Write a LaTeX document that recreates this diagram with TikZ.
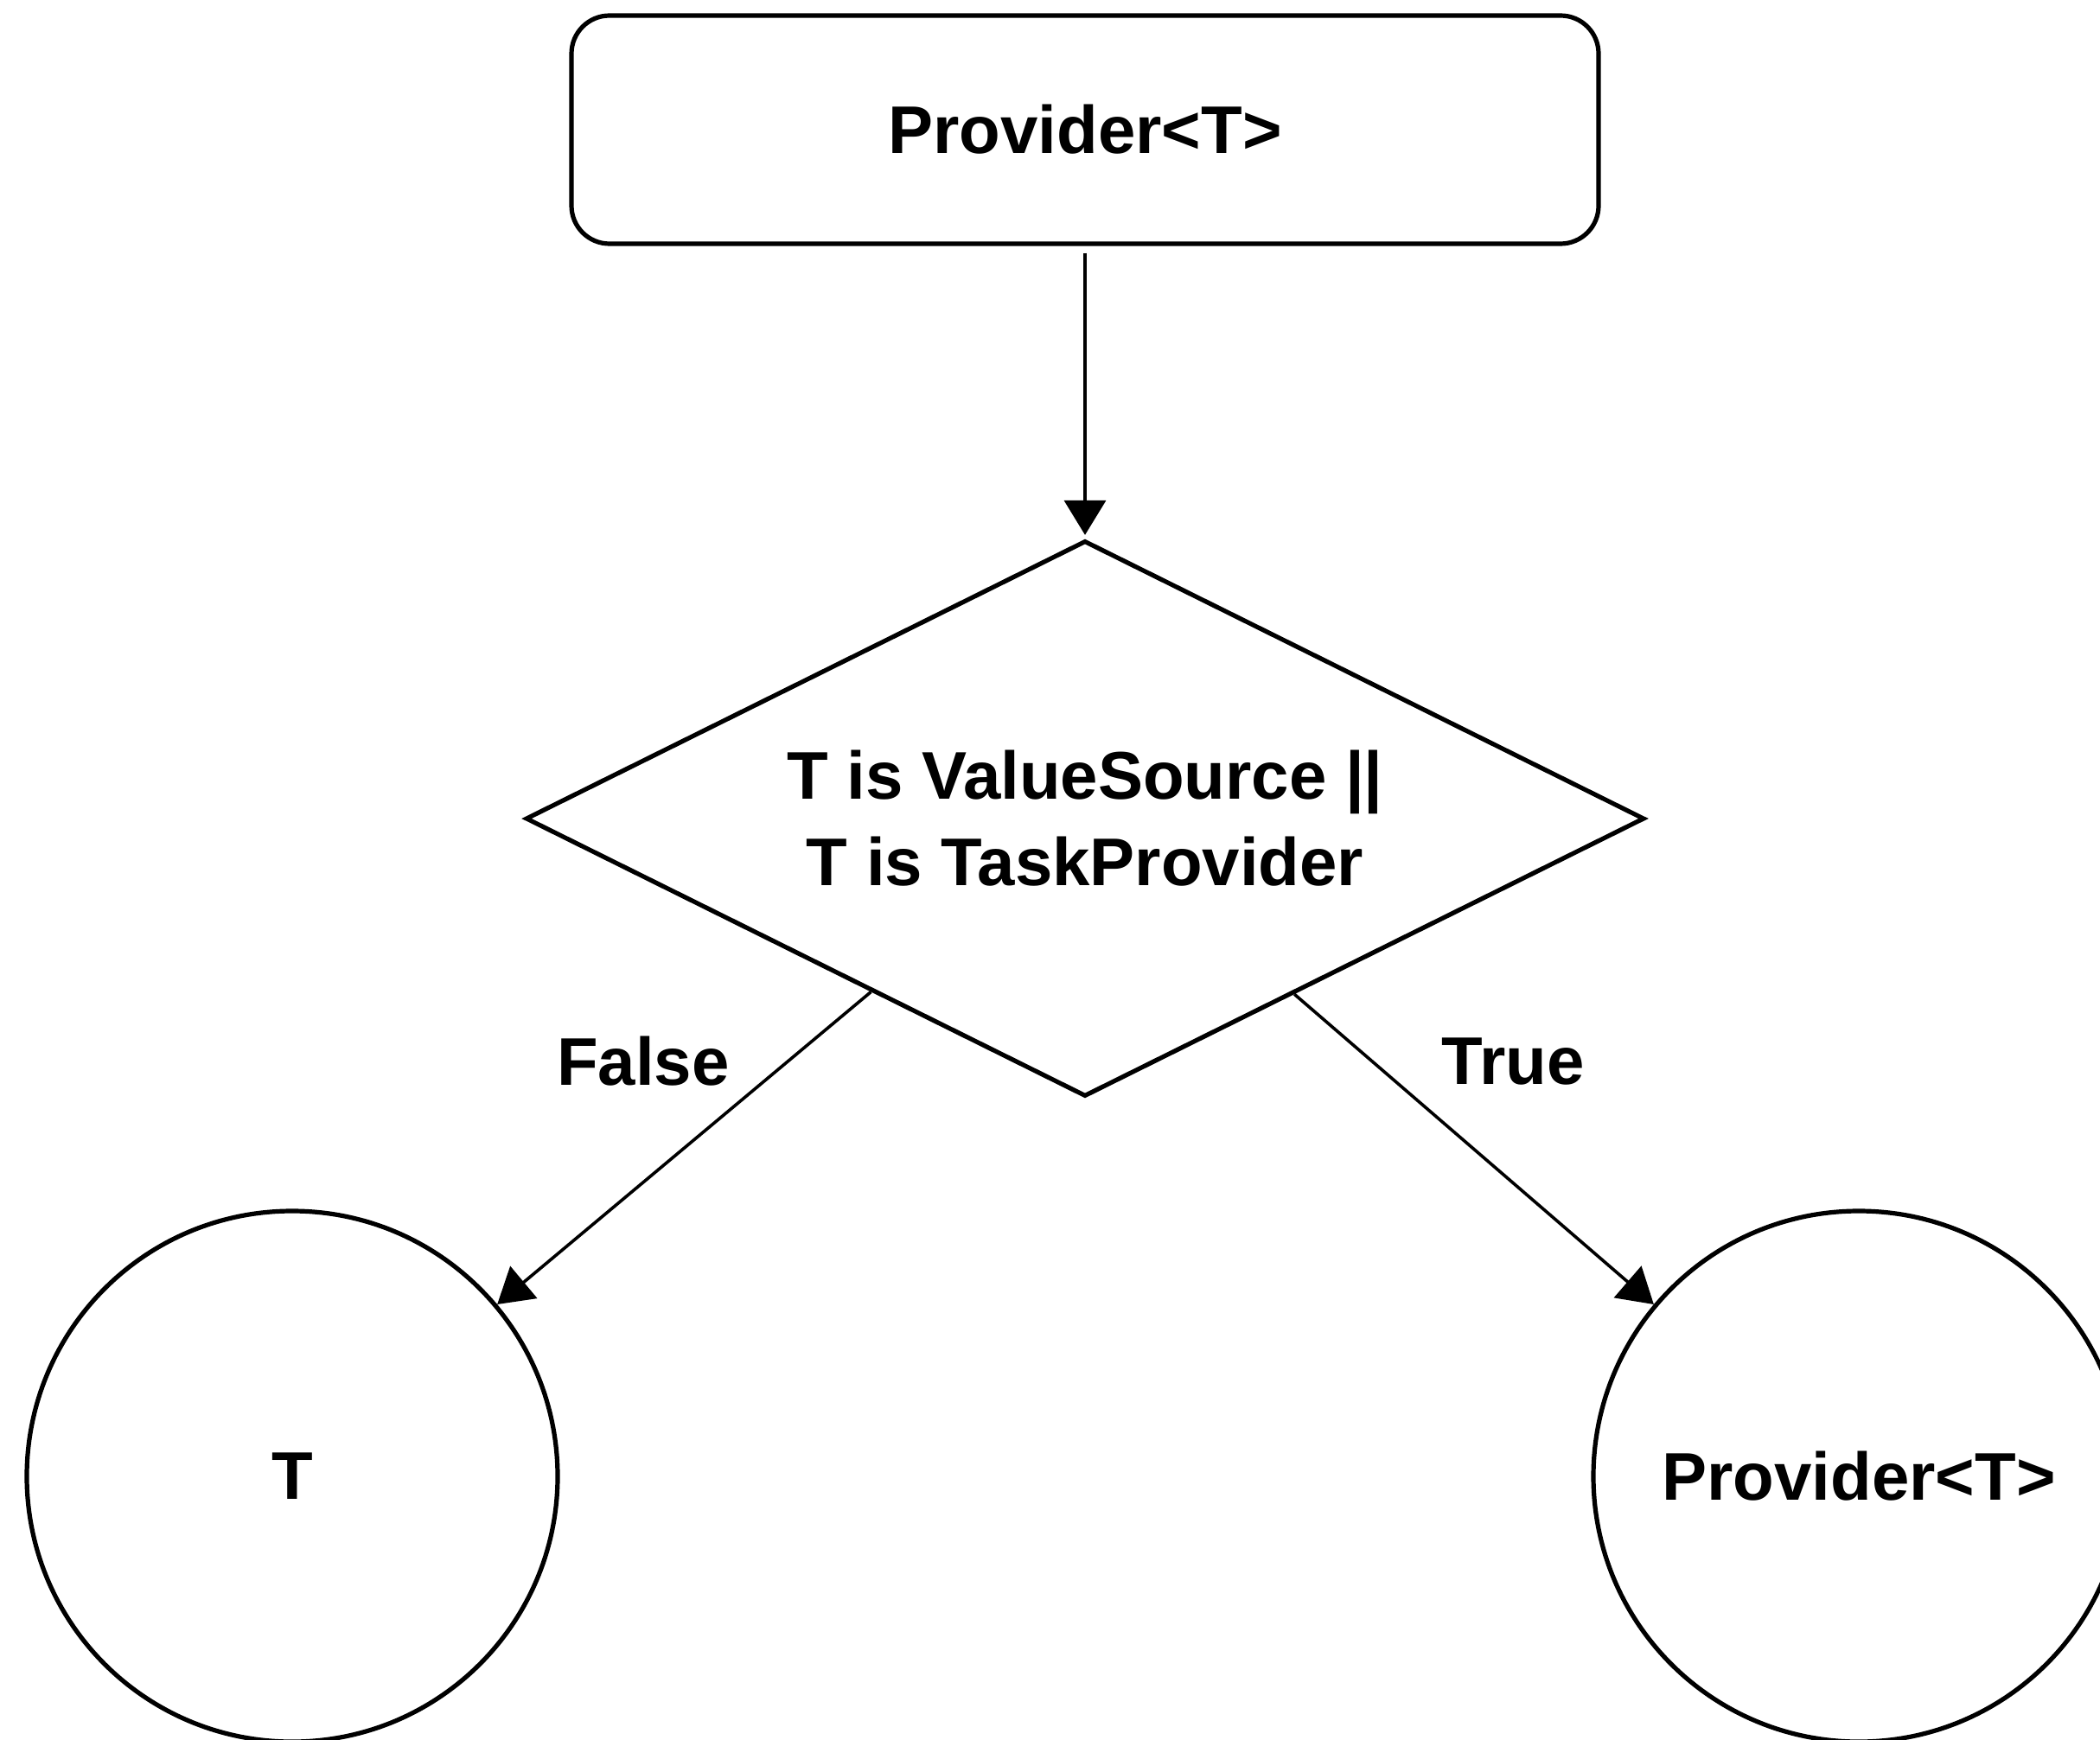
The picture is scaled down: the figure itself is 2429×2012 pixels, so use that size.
\documentclass[tikz,border=0pt]{standalone}
\usepackage{fontspec}
\setmainfont{Liberation Sans}
\usetikzlibrary{shapes.geometric,arrows.meta}

\tikzset{
  shape line/.style={draw, line width=1.3pt},
  label text/.style={font=\fontsize{19.5}{25}\selectfont\bfseries, align=center},
  flow arrow/.style={line width=0.9pt, -{Triangle[width=12pt,length=10pt]}},
}

\begin{document}
\begin{tikzpicture}[x=0.25pt,y=0.25pt,yscale=-1,xscale=1]
\useasboundingbox (0,0) rectangle (2429,2012);

%Shape: Rounded Rectangle [id:provider]
\node (provider) at (1255,150) [shape line, rounded corners=11pt, minimum width=297pt, minimum height=66pt, label text] {Provider<T>};
%Shape: Diamond [id:check]
\node (check) at (1255,947) [shape line, diamond, aspect=2, minimum width=323.5pt, minimum height=160.75pt, inner sep=0pt, label text] {T is ValueSource ||\\T is TaskProvider};
%Shape: Circle [id:tcircle]
\node (tcircle) at (338,1708) [shape line, circle, minimum size=153.5pt, label text] {T};
%Shape: Circle [id:pcircle]
\node (pcircle) at (2150,1708) [shape line, circle, minimum size=153.5pt, label text] {Provider<T>};

%Straight Lines
\draw [flow arrow, shorten <=2pt, shorten >=1pt] (provider) -- (check);
\draw [flow arrow] (check.219) -- (tcircle.40);
\draw [flow arrow] (check.-40) -- (pcircle.140);

% Text Node
\node (false) at (744,1228) [label text] {False};
% Text Node
\node (true) at (1750,1228) [label text] {True};

\end{tikzpicture}
\end{document}
